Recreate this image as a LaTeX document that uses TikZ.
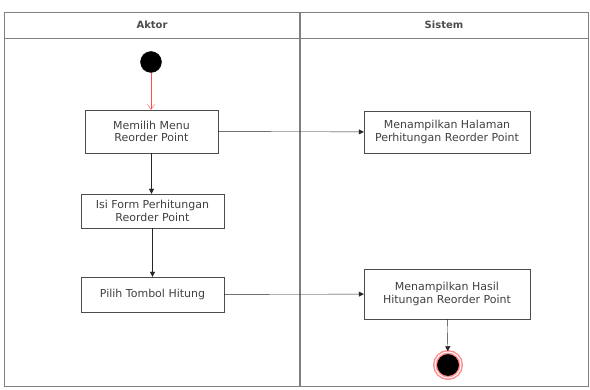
\documentclass[tikz,border=0pt]{standalone}
\usepackage{fontspec}
\setmainfont{DejaVu Sans}
\usetikzlibrary{arrows.meta}

\tikzset{
  lane/.style={draw=black!50, line width=0.9pt},
  act/.style={draw=black!70, rectangle, inner sep=2pt, align=center, text=black!75,
    font=\fontsize{11}{12.5}\selectfont},
  flow/.style={draw=black!85, -{Triangle[length=5pt,width=5pt]}},
}

\begin{document}
\begin{tikzpicture}[x=1pt, y=-1pt]
            \useasboundingbox (0,0) rectangle (590,390);
            % swimlanes
            \draw [lane] (4,12) rectangle (588,386);
            \draw [lane] (4,38) -- (588,38);
            \draw [lane, line width=1.5pt] (300,12) -- (300,386);
            \node [font=\fontsize{10}{12}\selectfont\bfseries, text=black!70] (aktor) at (152, 25) {Aktor};
            \node [font=\fontsize{10}{12}\selectfont\bfseries, text=black!70] (sistem) at (444, 25) {Sistem};
            % activities
            \node [circle, fill=black, draw=black, inner sep=0pt, minimum size=21pt] (start) at (151, 62) {};
            \node [act, minimum width=133pt, minimum height=43pt] (menu) at (151.5, 131.5) {Memilih Menu\\Reorder Point};
            \node [act, minimum width=143pt, minimum height=34pt] (form) at (152.5, 211) {Isi Form Perhitungan\\Reorder Point};
            \node [act, minimum width=143pt, minimum height=35pt] (hitung) at (152.5, 294.5) {Pilih Tombol Hitung};
            \node [act, minimum width=166pt, minimum height=42pt] (halaman) at (447, 132) {Menampilkan Halaman\\Perhitungan Reorder Point};
            \node [act, minimum width=166pt, minimum height=50pt] (hasil) at (447, 294) {Menampilkan Hasil\\Hitungan Reorder Point};
            \node [circle, fill=black, draw=red!45, line width=1.5pt, inner sep=0pt, minimum size=26pt, double=white, double distance=1pt] (end) at (448, 365) {};
            % flows
            \draw [red!70, -{Straight Barb[length=5pt,width=7pt]}] (start) -- (start |- menu.north);
            \draw [flow] (menu.south) -- (menu.south |- form.north);
            \draw [flow] (form) -- (hitung);
            \draw [flow] (menu) -- (halaman);
            \draw [flow] (hitung) -- (hasil);
            \draw [flow] (hasil) -- (end);
        \end{tikzpicture}
\end{document}
